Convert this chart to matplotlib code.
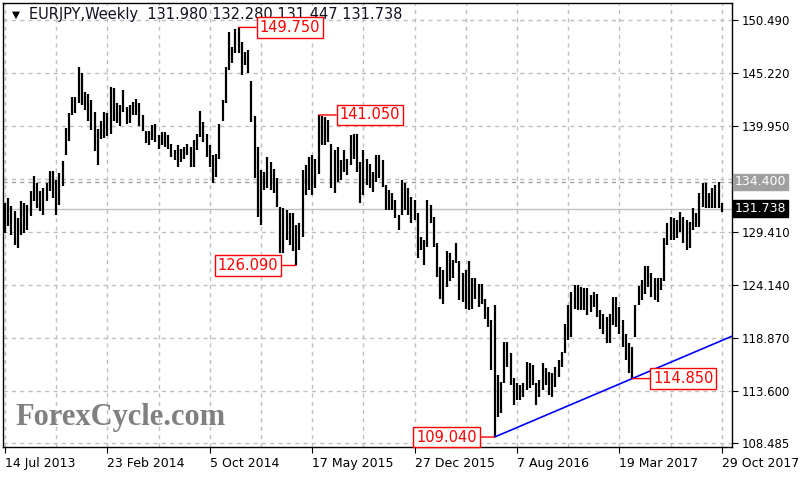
import numpy as np
import pandas as pd
import matplotlib

matplotlib.use('Agg')
import matplotlib.pyplot as plt

# weekly EURJPY bars (high / low)
highs = [132.3, 132.8, 132.0, 131.5, 130.8, 132.5, 132.3, 132.1, 133.5, 135.0,
         134.3, 133.5, 133.8, 134.3, 135.5, 135.5, 134.6, 135.3, 136.5, 139.8,
         141.2, 142.8, 142.8, 145.8, 145.2, 143.3, 143.1, 142.5, 141.3, 139.7,
         140.5, 141.3, 141.2, 143.8, 143.7, 142.2, 142.0, 143.5, 141.8, 142.0,
         142.3, 142.6, 142.2, 141.0, 139.5, 139.5, 140.05, 140.2, 139.1, 139.4,
         139.4, 139.1, 138.2, 137.6, 138.1, 137.7, 137.9, 138.2, 137.9, 138.6,
         139.2, 141.4, 140.4, 139.2, 138.1, 137.1, 137.2, 140.2, 142.5, 145.85,
         149.3, 147.8, 149.6, 149.75, 148.3, 147.3, 147.5, 144.4, 140.9, 137.9,
         135.6, 135.4, 136.9, 136.4, 135.7, 134.75, 131.9, 131.8, 131.6, 131.3,
         131.3, 130.1, 130.3, 135.6, 136.1, 136.9, 137.1, 136.7, 141.05, 140.9,
         140.8, 140.6, 138.2, 137.6, 137.9, 136.6, 137.6, 136.7, 139.1, 139.2,
         139.2, 136.4, 137.6, 136.7, 136.2, 135.4, 137.1, 137.1, 136.6, 134.1,
         133.6, 133.3, 132.6, 131.1, 134.6, 134.3, 133.8, 132.9, 132.6, 131.3,
         128.95, 128.6, 132.6, 132.1, 130.9, 128.3, 125.9, 125.6, 127.5, 127.3,
         126.6, 128.3, 126.5, 125.3, 125.6, 126.5, 124.8, 124.8, 124.3, 124.3,
         122.8, 122.0, 120.7, 122.2, 115.2, 114.5, 118.5, 118.5, 117.35, 114.9,
         114.4, 114.2, 114.4, 116.5, 116.4, 116.2, 114.4, 114.7, 116.4, 115.9,
         115.5, 115.4, 116.0, 116.7, 117.5, 120.3, 122.2, 123.5, 124.2, 124.2,
         124.0, 123.9, 123.9, 123.15, 123.5, 123.3, 121.7, 121.3, 121.0, 121.3,
         123.0, 123.0, 122.0, 120.7, 119.3, 118.35, 118.0, 122.2, 124.1, 124.6,
         126.0, 126.0, 125.3, 124.8, 124.8, 124.8, 128.8, 130.3, 130.9, 130.8,
         130.6, 131.4, 130.9, 130.6, 130.4, 131.8, 131.3, 133.3, 134.3, 134.25,
         133.3, 133.75, 134.1, 134.40, 132.28]
lows = [129.3, 130.0, 129.1, 128.1, 127.8, 129.1, 129.3, 129.6, 131.0, 132.5,
        131.8, 131.5, 131.1, 132.5, 133.5, 132.8, 131.1, 132.1, 134.0, 137.1,
        138.5, 141.0, 141.2, 142.2, 142.0, 141.5, 140.5, 139.6, 137.5, 136.1,
        138.7, 138.8, 139.0, 139.2, 140.5, 140.3, 140.0, 141.3, 140.2, 140.3,
        141.0, 141.0, 140.0, 139.5, 138.3, 138.1, 138.6, 138.4, 137.7, 138.1,
        137.9, 137.7, 136.9, 136.6, 135.9, 136.4, 136.7, 137.1, 135.9, 135.9,
        137.6, 138.9, 138.4, 136.9, 135.9, 134.3, 134.9, 136.7, 140.5, 142.2,
        145.5, 146.2, 147.2, 147.2, 145.0, 146.0, 145.2, 140.4, 134.75, 130.9,
        130.1, 133.6, 133.8, 133.6, 133.3, 131.9, 127.3, 127.3, 128.6, 128.1,
        127.5, 126.09, 127.6, 128.95, 133.1, 133.6, 133.1, 133.8, 135.2, 138.1,
        138.1, 138.4, 133.8, 133.3, 134.4, 134.6, 135.4, 135.1, 136.1, 136.7,
        135.4, 132.3, 133.1, 134.1, 133.8, 133.4, 134.4, 134.8, 133.9, 131.6,
        131.6, 131.6, 130.8, 129.6, 131.1, 131.6, 131.1, 130.3, 130.6, 126.8,
        127.6, 126.1, 127.96, 130.3, 127.96, 124.98, 122.8, 122.3, 124.0, 124.5,
        124.8, 126.3, 122.7, 122.5, 121.8, 121.7, 121.8, 122.8, 122.0, 122.3,
        120.8, 120.0, 115.7, 109.04, 111.06, 111.4, 114.4, 116.0, 114.2, 112.2,
        112.7, 112.7, 113.0, 113.7, 113.9, 114.2, 112.2, 113.0, 113.7, 114.2,
        113.2, 113.0, 114.0, 115.0, 116.0, 117.4, 118.7, 119.0, 121.8, 121.7,
        121.7, 121.7, 121.2, 121.5, 122.0, 121.0, 119.8, 119.3, 118.35, 118.35,
        120.2, 120.0, 119.3, 118.0, 116.7, 115.4, 114.85, 119.0, 122.2, 122.7,
        123.3, 124.0, 123.0, 122.7, 122.5, 123.65, 124.5, 128.1, 128.6, 128.6,
        128.8, 129.45, 128.3, 127.6, 127.8, 129.6, 129.9, 129.9, 131.93, 131.77,
        131.77, 131.77, 131.77, 131.77, 131.447]

first_week = '2013-07-14'
last_ohlc = [131.980, 132.280, 131.447, 131.738]
period_high = 134.400
price_ticks = [150.490, 145.220, 139.950, 129.410, 124.140, 118.870, 113.600, 108.485]
grid_prices = [150.490, 145.220, 139.950, 134.680, 129.410, 124.140, 118.870, 113.600, 108.485]

# swing points that get a red label: (bar index, 'high'/'low')
swings = [(73, 'high'), (98, 'high'), (91, 'low'), (153, 'low'), (196, 'low')]
trend_bars = [153, 196]

weeks = pd.date_range(first_week, periods=len(highs), freq='7D')
x = np.arange(len(highs))

fig = plt.figure(figsize=(8, 4.8), dpi=100)
ax = fig.add_axes([3 / 800, 1 - 447 / 480, 729 / 800, 444 / 480])
ax.set_xlim(-0.625, 227.19)
ax.set_ylim(108.05, 152.18)

grid_col = '#c0c0c0'
for p in grid_prices:
    ax.axhline(p, color=grid_col, lw=1, ls=(0, (3, 3)), zorder=0)
for i in range(0, len(x), 16):
    ax.axvline(i, color=grid_col, lw=1, ls=(0, (3, 3)), zorder=0)

ax.axhline(period_high, color='#a0a0a0', lw=1, ls=(0, (3, 3)), zorder=1)
ax.axhline(last_ohlc[3], color='#c0c0c0', lw=1, zorder=1)

ax.vlines(x, lows, highs, color='black', lw=1.6, zorder=3)

# support trendline through the two lows, extended to the right edge
x0, x1 = trend_bars
slope = (lows[x1] - lows[x0]) / (x1 - x0)
xr = ax.get_xlim()[1]
ax.plot([x0, xr], [lows[x0], lows[x0] + slope * (xr - x0)], color='#0000ff', lw=1.2, zorder=4)

for i, kind in swings:
    v = highs[i] if kind == 'high' else lows[i]
    right = i not in (91, 153)
    off = 21 if right else -18
    ax.annotate(f'{v:.3f}', xy=(i, v), xytext=(off, 0), textcoords='offset pixels',
                ha='left' if right else 'right', va='center', color='red', fontsize=10.5,
                bbox=dict(boxstyle='square,pad=0.2', fc='white', ec='red', lw=1),
                arrowprops=dict(arrowstyle='-', color='red', lw=1, shrinkA=0, shrinkB=0),
                zorder=5)

for s in ax.spines.values():
    s.set_color('black')
    s.set_linewidth(1)

ax.yaxis.tick_right()
ax.set_yticks(price_ticks)
ax.set_yticklabels([f'{p:.3f}' for p in price_ticks])
ax.tick_params(axis='y', direction='out', length=4, labelsize=8.5, pad=3)

xt = list(range(0, len(x), 32))
ax.set_xticks(xt)
ax.set_xticklabels([f'{weeks[i].day} {weeks[i]:%b %Y}' for i in xt], ha='left')
ax.tick_params(axis='x', direction='out', length=4, labelsize=9, pad=3)

ytr = ax.get_yaxis_transform()
ax.text(1.004, period_high, f'{period_high:.3f}', transform=ytr, ha='left', va='center',
        fontsize=9, color='white', clip_on=False,
        bbox=dict(boxstyle='square,pad=0.15', fc='#a0a0a0', ec='#a0a0a0'))
ax.text(1.004, last_ohlc[3], f'{last_ohlc[3]:.3f}', transform=ytr, ha='left', va='center',
        fontsize=9, color='white', clip_on=False,
        bbox=dict(boxstyle='square,pad=0.15', fc='black', ec='black'))

# chart header sits under the swing labels, as in the terminal window
ax.text(9 / 729, 1 - 12 / 444, '\u25bc', transform=ax.transAxes,
        fontsize=7.5, va='center', ha='left', zorder=2)
ax.text(26 / 729, 1 - 12 / 444,
        'EURJPY,Weekly  ' + ' '.join(f'{v:.3f}' for v in last_ohlc),
        transform=ax.transAxes, fontsize=10.5, va='center', ha='left',
        color='#101020', zorder=2)

ax.text(12 / 729, 1 - (418 - 3) / 444, 'ForexCycle.com', transform=ax.transAxes,
        family='Liberation Serif', fontweight='bold', fontsize=22, color='#808080',
        va='center', ha='left', zorder=2)

fig.savefig('out.png', dpi=100, facecolor='white')
